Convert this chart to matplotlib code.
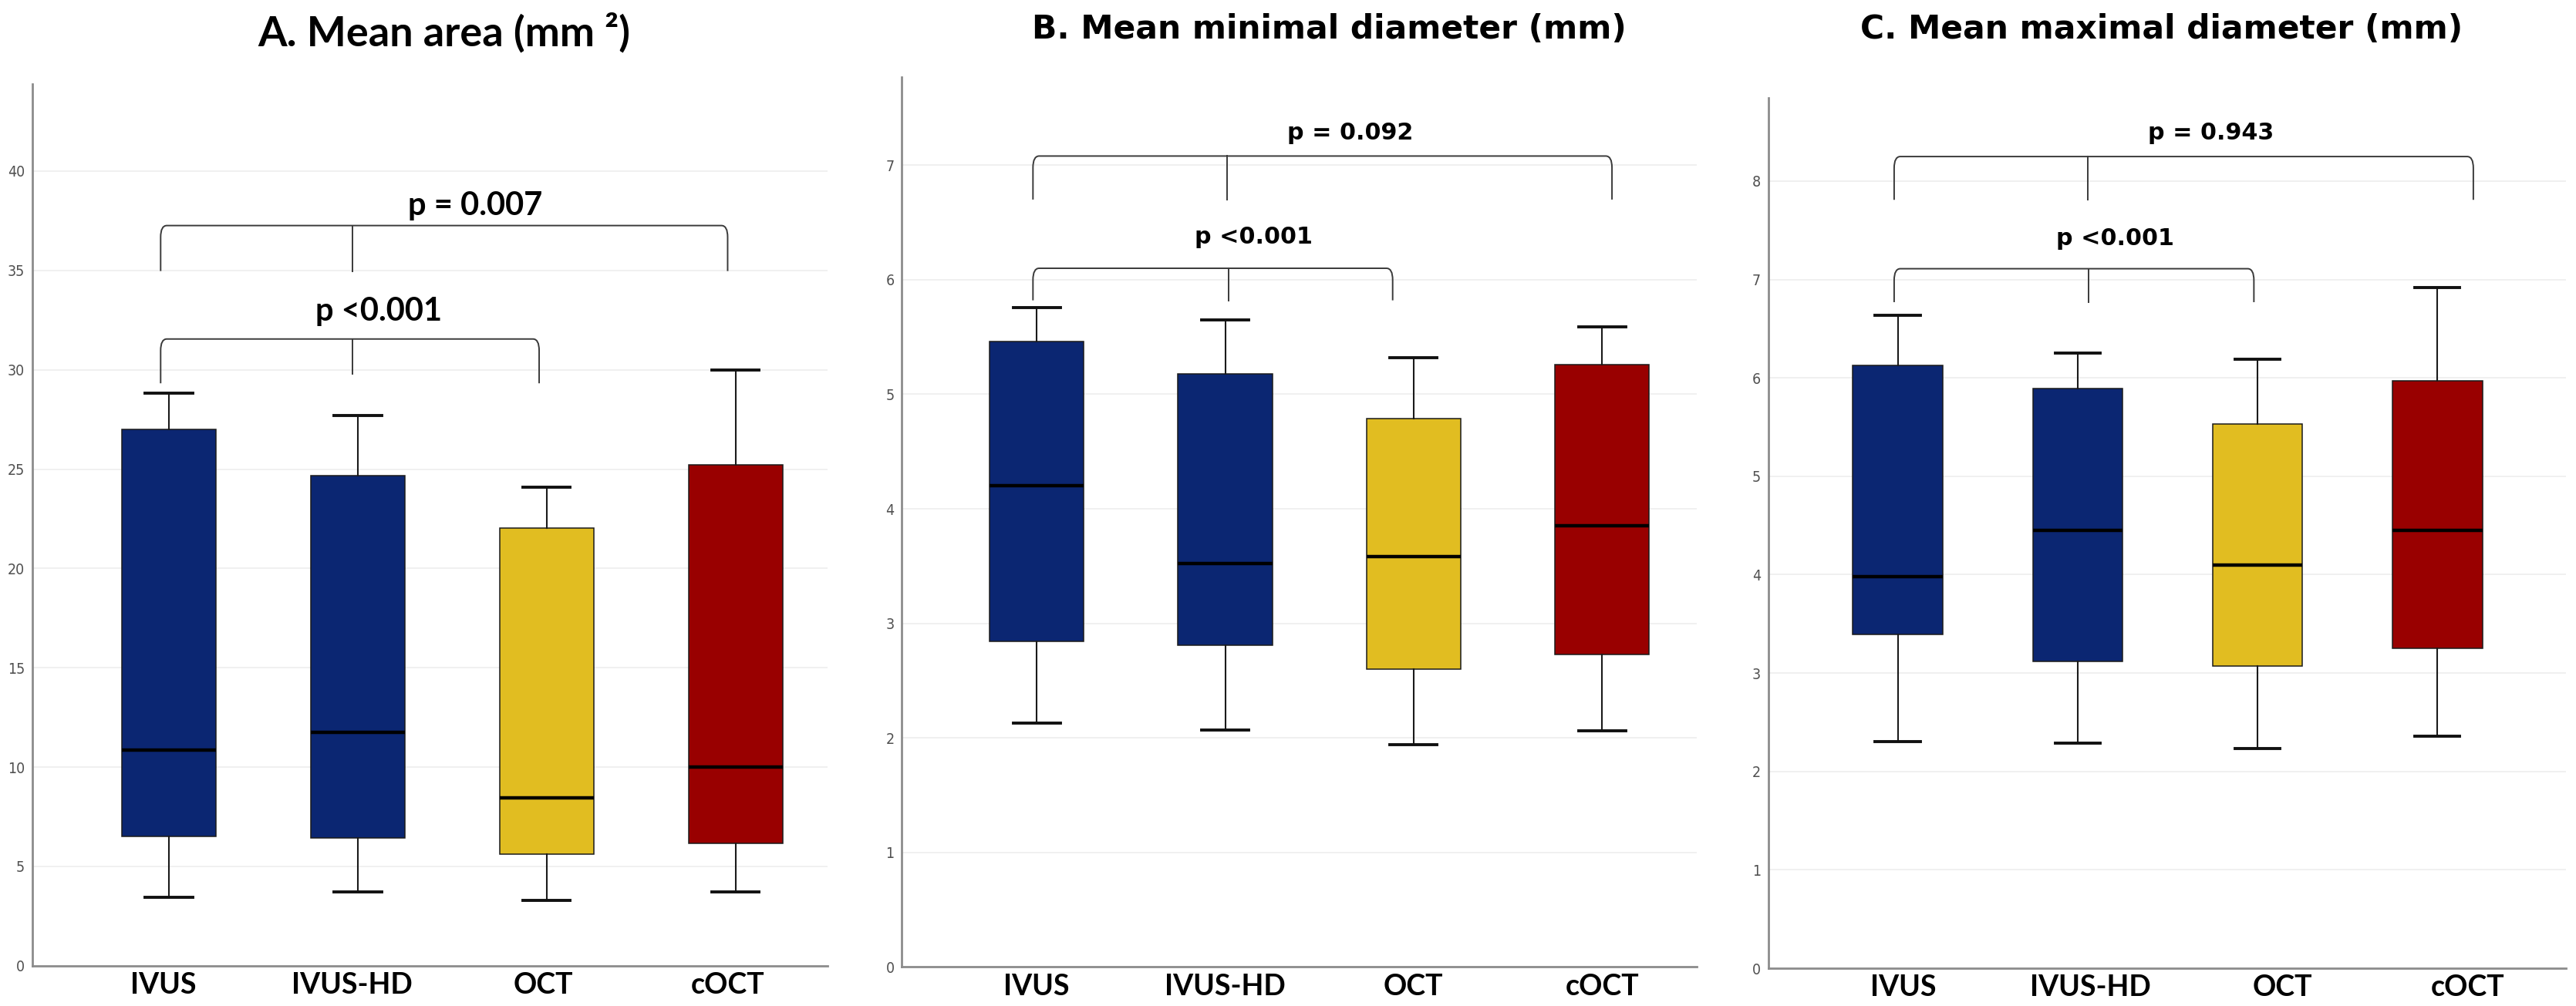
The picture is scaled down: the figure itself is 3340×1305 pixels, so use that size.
import matplotlib
matplotlib.use("Agg")
import matplotlib.pyplot as plt
from matplotlib.path import Path
from matplotlib.patches import PathPatch

groups = ["IVUS", "IVUS-HD", "OCT", "cOCT"]
box_colors = ["#0b2672", "#0b2672", "#e1bd21", "#990000"]

# A. Mean area (mm2)
area_whislo = [3.46, 3.73, 3.30, 3.73]
area_q1 = [6.53, 6.43, 5.63, 6.17]
area_med = [10.86, 11.75, 8.46, 10.02]
area_q3 = [26.99, 24.66, 22.03, 25.22]
area_whishi = [28.81, 27.71, 24.10, 30.00]

# B. Mean minimal diameter (mm)
mind_whislo = [2.13, 2.07, 1.94, 2.06]
mind_q1 = [2.84, 2.81, 2.60, 2.73]
mind_med = [4.20, 3.52, 3.58, 3.85]
mind_q3 = [5.46, 5.18, 4.79, 5.26]
mind_whishi = [5.76, 5.65, 5.32, 5.59]

# C. Mean maximal diameter (mm)
maxd_whislo = [2.30, 2.29, 2.23, 2.36]
maxd_q1 = [3.39, 3.12, 3.07, 3.25]
maxd_med = [3.98, 4.45, 4.10, 4.45]
maxd_q3 = [6.13, 5.89, 5.53, 5.97]
maxd_whishi = [6.64, 6.25, 6.19, 6.92]

titles = ["A. Mean area (mm \u00b2)", "B. Mean minimal diameter (mm)", "C. Mean maximal diameter (mm)"]
p_overall = ["p = 0.007", "p = 0.092", "p = 0.943"]
p_ivus_oct = ["p <0.001", "p <0.001", "p <0.001"]

W, H = 3341, 1305
fig = plt.figure(figsize=(W / 100, H / 100), dpi=100)

def px_axes(x0, x1, y0, y1):
    # pixel box (top-left origin) -> figure fraction
    return fig.add_axes([x0 / W, 1 - y1 / H, (x1 - x0) / W, (y1 - y0) / H])

LINE = "#3a3a3a"

def bracket(ax, xl, xr, xm, ytop, yleg, ymid):
    p = ax.transData.transform([(0, 0), (1, 1)])
    rx = 8 / (p[1, 0] - p[0, 0])
    ry = 15 / (p[1, 1] - p[0, 1])
    verts = [(xl, yleg), (xl, ytop - ry), (xl, ytop), (xl + rx, ytop),
             (xr - rx, ytop), (xr, ytop), (xr, ytop - ry), (xr, yleg)]
    codes = [Path.MOVETO, Path.LINETO, Path.CURVE3, Path.CURVE3,
             Path.LINETO, Path.CURVE3, Path.CURVE3, Path.LINETO]
    ax.add_patch(PathPatch(Path(verts, codes), fill=False, ec=LINE, lw=1.4, zorder=4))
    ax.plot([xm, xm], [ytop, ymid], color=LINE, lw=1.4, zorder=4)

def panel(box, xlim, ylim, yticks, xtickpos, lo, q1, med, q3, hi):
    ax = px_axes(*box)
    stats = [dict(whislo=a, q1=b, med=c, q3=d, whishi=e, label=g)
             for a, b, c, d, e, g in zip(lo, q1, med, q3, hi, groups)]
    bp = ax.bxp(stats, positions=range(len(groups)), widths=0.5, capwidths=0.25,
                showfliers=False, patch_artist=True,
                boxprops=dict(edgecolor="#1a1a1a", linewidth=1.1),
                medianprops=dict(color="black", linewidth=3.2),
                whiskerprops=dict(color="#1a1a1a", linewidth=1.5),
                capprops=dict(color="#111111", linewidth=2.8))
    for patch, c in zip(bp["boxes"], box_colors):
        patch.set_facecolor(c)
    ax.set_xlim(*xlim)
    ax.set_ylim(*ylim)
    ax.set_yticks(yticks)
    ax.set_yticklabels([str(t) for t in yticks], fontsize=14, color="#505050",
                       fontstretch="condensed")
    ax.set_xticks(xtickpos)
    ax.set_xticklabels(groups, fontsize=27, fontweight="bold", family="Lato")
    ax.tick_params(axis="both", length=0)
    ax.tick_params(axis="y", pad=7)
    ax.tick_params(axis="x", pad=6)
    ax.grid(axis="y", color="#ededed", linewidth=1.2)
    ax.set_axisbelow(True)
    for s in ["top", "right"]:
        ax.spines[s].set_visible(False)
    for s in ["left", "bottom"]:
        ax.spines[s].set_color("#8c8c8c")
        ax.spines[s].set_linewidth(2)
    return ax

axA = panel((42, 1073, 108.6, 1252.8), (-0.723, 3.487), (0, 44.4), range(0, 41, 5),
            [-0.03, 0.97, 1.98, 2.96], area_whislo, area_q1, area_med, area_q3, area_whishi)
axB = panel((1169.3, 2200, 99.9, 1254.3), (-0.716, 3.503), (0, 7.77), range(0, 8),
            [0.0, 1.0, 2.0, 3.0], mind_whislo, mind_q1, mind_med, mind_q3, mind_whishi)
axC = panel((2292.9, 3327, 126.5, 1256), (-0.719, 3.715), (0, 8.85), range(0, 9),
            [0.03, 1.07, 2.14, 3.17], maxd_whislo, maxd_q1, maxd_med, maxd_q3, maxd_whishi)

# significance brackets
bracket(axA, -0.044, 2.958, 0.97, 37.26, 34.97, 34.97)
bracket(axA, -0.044, 1.96, 0.97, 31.55, 29.32, 29.8)
axA.text(1.62, 38.25, p_overall[0], ha="center", va="center", fontsize=30,
         fontweight="bold", family="Lato")
axA.text(1.11, 32.95, p_ivus_oct[0], ha="center", va="center", fontsize=30,
         fontweight="bold", family="Lato")

bracket(axB, -0.02, 3.053, 1.009, 7.08, 6.70, 6.70)
bracket(axB, -0.02, 1.889, 1.018, 6.10, 5.82, 5.82)
axB.text(1.663, 7.28, p_overall[1], ha="center", va="center", fontsize=21.7, fontweight="bold")
axB.text(1.153, 6.37, p_ivus_oct[1], ha="center", va="center", fontsize=21.7, fontweight="bold")

bracket(axC, -0.02, 3.2, 1.055, 8.25, 7.81, 7.81)
bracket(axC, -0.02, 1.98, 1.06, 7.11, 6.77, 6.77)
axC.text(1.741, 8.49, p_overall[2], ha="center", va="center", fontsize=21.7, fontweight="bold")
axC.text(1.207, 7.42, p_ivus_oct[2], ha="center", va="center", fontsize=21.7, fontweight="bold")

# panel titles
fig.text(576 / W, 1 - 42 / H, titles[0], ha="center", va="center", fontsize=39,
         fontweight="bold", family="Lato")
fig.text(1723 / W, 1 - 38 / H, titles[1], ha="center", va="center", fontsize=30.5,
         fontweight="bold")
fig.text(2803 / W, 1 - 38 / H, titles[2], ha="center", va="center", fontsize=30.5,
         fontweight="bold")

fig.savefig("out.png", dpi=100, facecolor="white")
